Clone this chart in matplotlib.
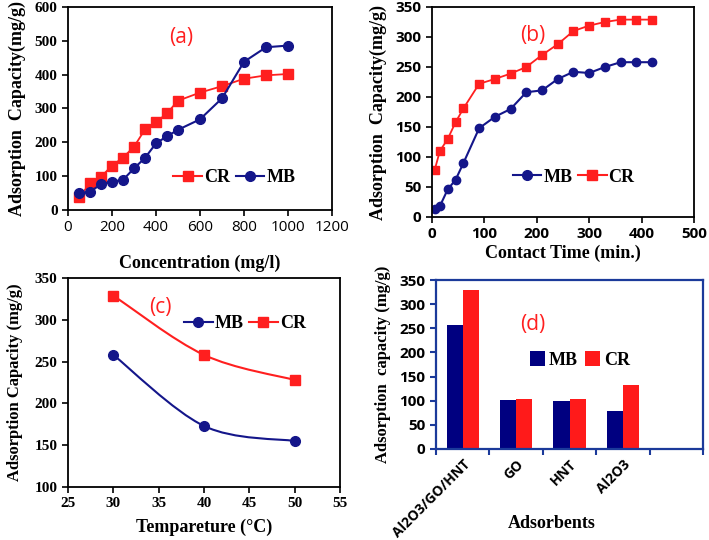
import numpy as np
import matplotlib
matplotlib.use('Agg')
import matplotlib.pyplot as plt
from matplotlib.path import Path
import matplotlib.patches as mpatches
from matplotlib.lines import Line2D

# (a) effect of initial concentration
conc = [50, 100, 150, 200, 250, 300, 350, 400, 450, 500, 600, 700, 800, 900, 1000]
conc_cr = [37, 79, 98, 131, 155, 187, 238, 259, 286, 323, 347, 366, 388, 398, 402]
conc_mb = [49, 54, 76, 84, 89, 123, 154, 197, 218, 237, 268, 330, 438, 481, 486]

# (b) effect of contact time
time_min = [5, 15, 30, 45, 60, 90, 120, 150, 180, 210, 240, 270, 300, 330, 360, 390, 420]
time_mb = [14, 18, 46, 62, 90, 148, 167, 180, 208, 211, 230, 242, 240, 250, 258, 258, 258]
time_cr = [78, 110, 130, 158, 181, 222, 230, 239, 250, 270, 288, 310, 319, 325, 329, 329, 329]

# (c) effect of temperature
temp = [30, 40, 50]
temp_mb = [258, 173, 155]
temp_cr = [329, 258, 228]

# (d) comparison of adsorbents
adsorbents = ['Al2O3/GO/HNT', 'GO', 'HNT', 'Al2O3']
ads_mb = [257, 101, 99, 78]
ads_cr = [330, 103, 104, 133]

RED = '#FF1F1F'
NAVY = '#14168A'
SERIF = 'Liberation Serif'
SANS = 'Open Sans'

W, H = 709, 540
fig = plt.figure(figsize=(W / 100, H / 100), dpi=100)


def axes_px(left, right, top, bottom):
    return fig.add_axes([left / W, 1 - bottom / H, (right - left) / W, (bottom - top) / H])


def style(ax, xfont, yfont, xbold=True, ybold=True, size=11):
    ax.tick_params(direction='out', length=4, width=1.2, color='black')
    for lab in ax.get_xticklabels():
        lab.set_fontfamily(xfont)
        lab.set_fontweight('bold' if xbold else 'normal')
        lab.set_fontsize(size)
    for lab in ax.get_yticklabels():
        lab.set_fontfamily(yfont)
        lab.set_fontweight('bold' if ybold else 'normal')
        lab.set_fontsize(size)
    for sp in ax.spines.values():
        sp.set_linewidth(1.3)


def smooth(ax, xs, ys, color):
    # Excel-like smoothed line: cubic Bezier through the points
    xs = np.asarray(xs, float)
    ys = np.asarray(ys, float)
    verts = [(xs[0], ys[0])]
    codes = [Path.MOVETO]
    n = len(xs)
    for i in range(n - 1):
        p0 = np.array([xs[max(i - 1, 0)], ys[max(i - 1, 0)]])
        p1 = np.array([xs[i], ys[i]])
        p2 = np.array([xs[i + 1], ys[i + 1]])
        p3 = np.array([xs[min(i + 2, n - 1)], ys[min(i + 2, n - 1)]])
        c1 = p1 + (p2 - p0) / 6
        c2 = p2 - (p3 - p1) / 6
        verts += [tuple(c1), tuple(c2), tuple(p2)]
        codes += [Path.CURVE4] * 3
    ax.add_patch(mpatches.PathPatch(Path(verts, codes), facecolor='none',
                                    edgecolor=color, linewidth=1.5, zorder=2))


def legend(ax, handles, anchor, size=13):
    ax.legend(handles=handles, loc='center', bbox_to_anchor=anchor, ncol=2, frameon=False,
              prop={'family': SERIF, 'weight': 'bold', 'size': size},
              handlelength=1.6, handletextpad=0.1, columnspacing=0.3,
              borderaxespad=0)


# ---------------- (a) ----------------
ax = axes_px(68, 332, 7, 210)
ax.plot(conc, conc_cr, color=RED, marker='s', markersize=7, linewidth=1.3)
ax.plot(conc, conc_mb, color=NAVY, marker='o', markersize=7, linewidth=1.5)
ax.set_xlim(0, 1200)
ax.set_ylim(0, 600)
ax.set_xticks(range(0, 1201, 200))
ax.set_yticks(range(0, 601, 100))
style(ax, SANS, SERIF, xbold=False)
ax.set_xlabel('Concentration (mg/l)', family=SERIF, fontweight='bold', fontsize=13, labelpad=14)
ax.set_ylabel('Adsorption  Capacity(mg/g)', family=SERIF, fontweight='bold', fontsize=13, labelpad=6)
ax.text(0.43, 0.85, '(a)', transform=ax.transAxes, color=RED, family=SANS, fontsize=15, ha='center', va='center')
legend(ax, [Line2D([], [], color=RED, marker='s', markersize=7, label='CR'),
            Line2D([], [], color=NAVY, marker='o', markersize=7, label='MB')],
       (0.63, 0.16))

# ---------------- (b) ----------------
ax = axes_px(432, 694, 7, 217)
ax.plot(time_min, time_mb, color=NAVY, marker='o', markersize=6, linewidth=1.5)
ax.plot(time_min, time_cr, color=RED, marker='s', markersize=6, linewidth=1.3)
ax.set_xlim(0, 500)
ax.set_ylim(0, 350)
ax.set_xticks(range(0, 501, 100))
ax.set_yticks(range(0, 351, 50))
style(ax, SANS, SANS)
ax.set_xlabel('Contact Time (min.)', family=SERIF, fontweight='bold', fontsize=13, labelpad=2)
ax.set_ylabel('Adsorption  Capacity(mg/g)', family=SERIF, fontweight='bold', fontsize=13, labelpad=6)
ax.text(0.385, 0.865, '(b)', transform=ax.transAxes, color=RED, family=SANS, fontsize=15, ha='center', va='center')
legend(ax, [Line2D([], [], color=NAVY, marker='o', markersize=7, label='MB'),
            Line2D([], [], color=RED, marker='s', markersize=7, label='CR')],
       (0.54, 0.19))

# ---------------- (c) ----------------
ax = axes_px(68, 340, 278, 487)
smooth(ax, temp, temp_mb, NAVY)
smooth(ax, temp, temp_cr, RED)
ax.plot(temp, temp_mb, linestyle='none', color=NAVY, marker='o', markersize=7)
ax.plot(temp, temp_cr, linestyle='none', color=RED, marker='s', markersize=7)
ax.set_xlim(25, 55)
ax.set_ylim(100, 350)
ax.set_xticks(range(25, 56, 5))
ax.set_yticks(range(100, 351, 50))
style(ax, SERIF, SERIF)
ax.set_xlabel('Tempareture (\u00b0C)', family=SERIF, fontweight='bold', fontsize=13, labelpad=6)
ax.set_ylabel('Adsorption Capacity (mg/g)', family=SERIF, fontweight='bold', fontsize=12, labelpad=8)
ax.text(0.34, 0.86, '(c)', transform=ax.transAxes, color=RED, family=SANS, fontsize=15, ha='center', va='center')
legend(ax, [Line2D([], [], color=NAVY, marker='o', markersize=7, label='MB'),
            Line2D([], [], color=RED, marker='s', markersize=7, label='CR')],
       (0.65, 0.78))

# ---------------- (d) ----------------
ax = axes_px(436, 703, 280, 449)
pos = np.arange(len(adsorbents)) + 0.5
bw = 0.3
ax.bar(pos - bw / 2, ads_mb, width=bw, color='#000080', label='MB')
ax.bar(pos + bw / 2, ads_cr, width=bw, color='#FF1A1A', label='CR')
ax.set_xlim(0, 5)
ax.set_ylim(0, 350)
ax.set_yticks(range(0, 351, 50))
ax.set_xticks(range(0, 6))
ax.set_xticklabels([])
ax.set_xticks(pos, minor=True)
ax.set_xticklabels(adsorbents, minor=True, rotation=45, ha='right', rotation_mode='anchor',
                   family=SANS, fontweight='bold', fontsize=10)
ax.tick_params(axis='x', which='minor', length=0, pad=6)
style(ax, SANS, SANS)
ax.tick_params(color='#1B3A9A', width=1.5)
for sp in ax.spines.values():
    sp.set_color('#1B3A9A')
    sp.set_linewidth(1.6)
fig.text(552 / W, 1 - 523 / H, 'Adsorbents', family=SERIF, fontweight='bold', fontsize=13,
         ha='center', va='center')
ax.set_ylabel('Adsorption  capacity (mg/g)', family=SERIF, fontweight='bold', fontsize=12, labelpad=6)
ax.text(0.363, 0.734, '(d)', transform=ax.transAxes, color=RED, family=SANS, fontsize=15, ha='center', va='center')
ax.legend(loc='center', bbox_to_anchor=(0.54, 0.527), ncol=2, frameon=False,
          prop={'family': SERIF, 'weight': 'bold', 'size': 13},
          handlelength=0.8, handleheight=0.9, handletextpad=0.25, columnspacing=0.4)

fig.savefig('out.png', dpi=100, facecolor='white')
